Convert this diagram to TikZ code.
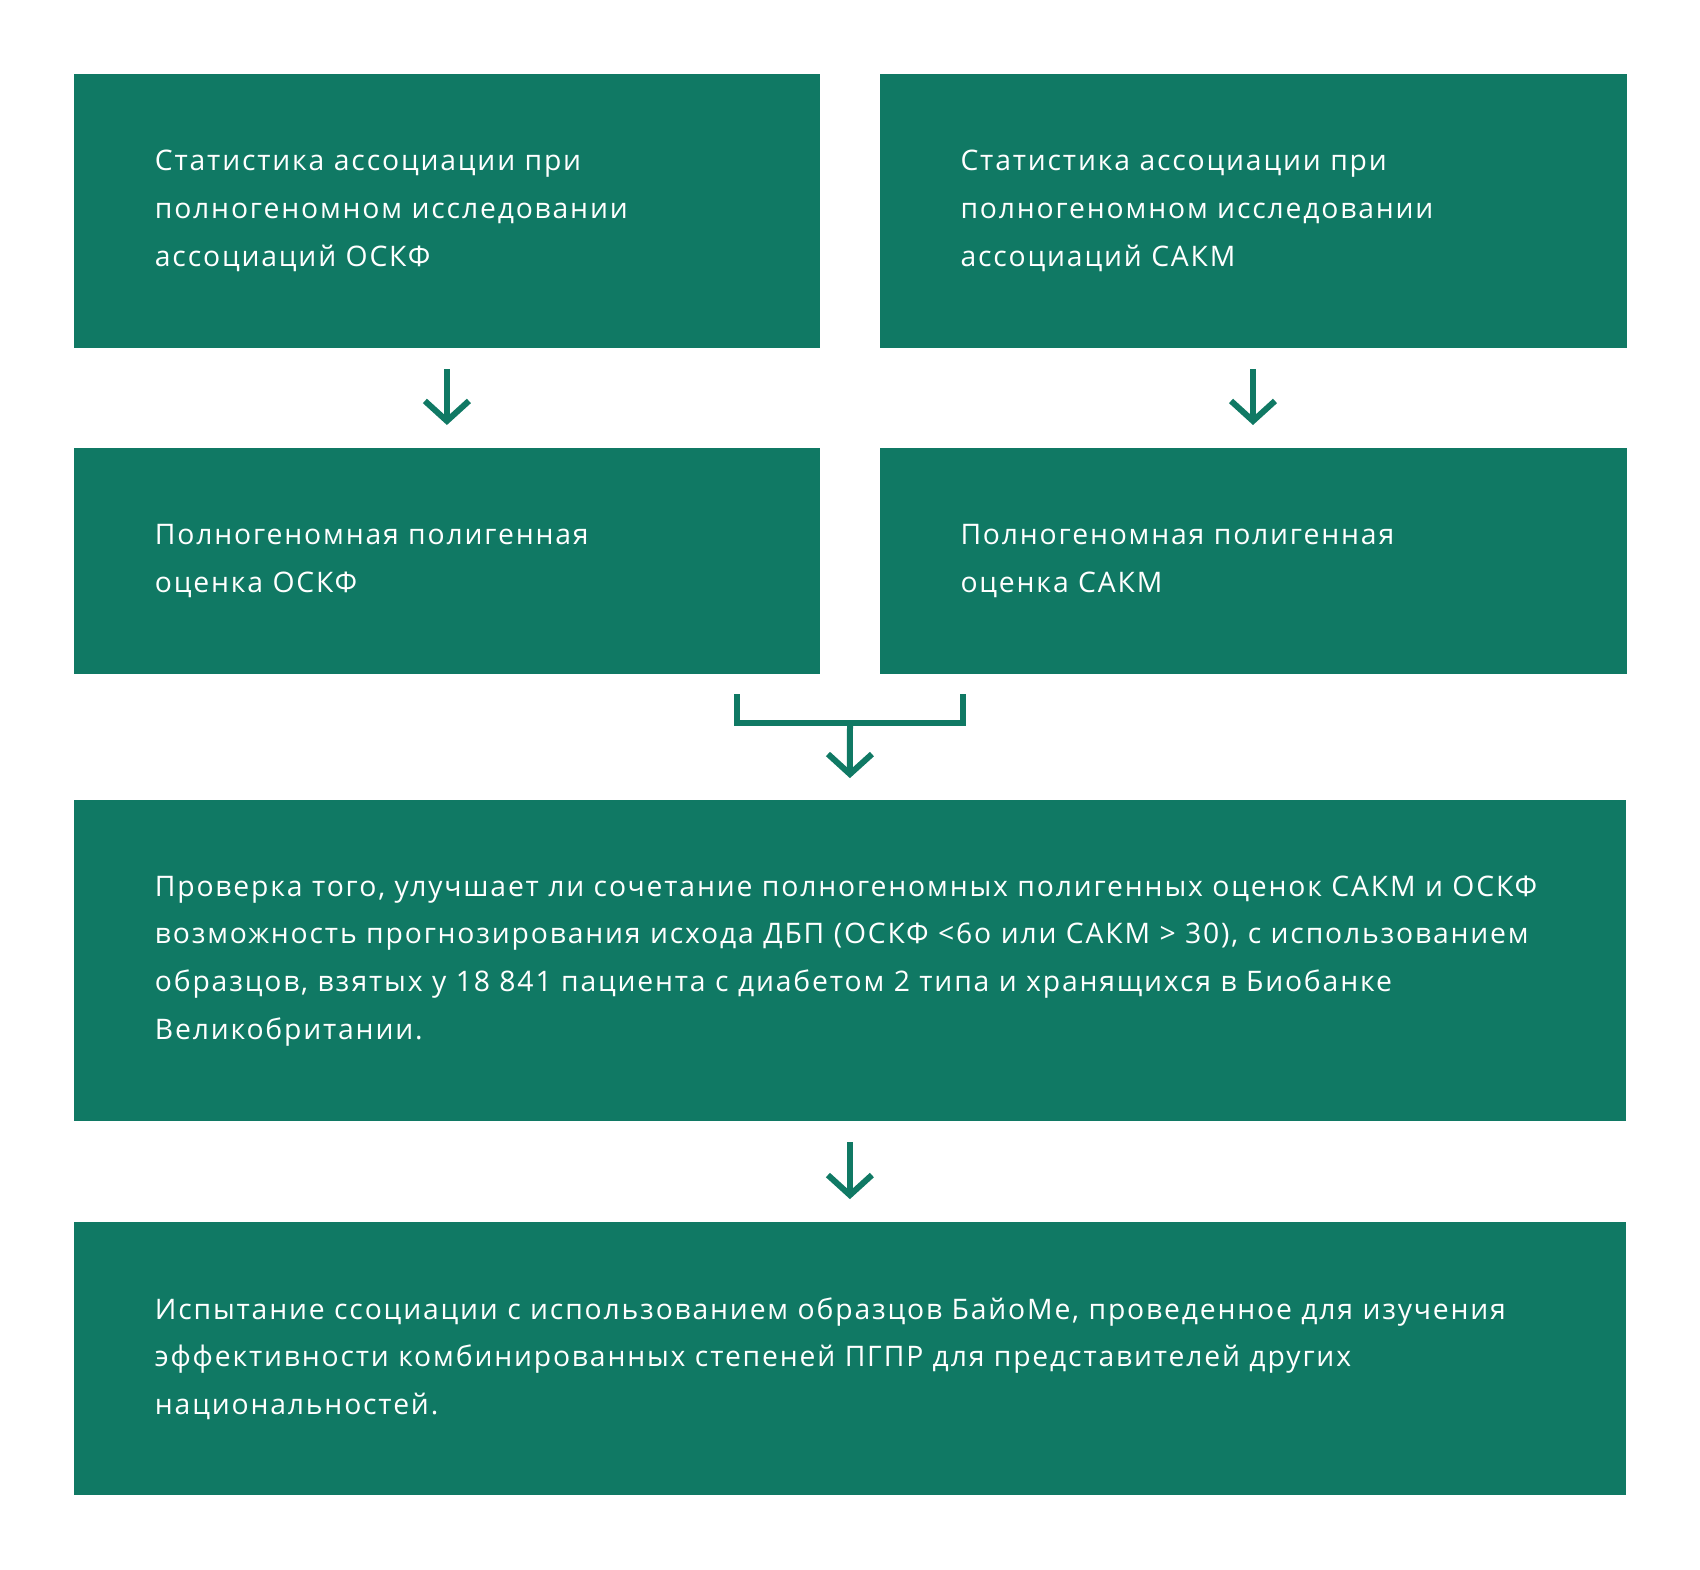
\documentclass[tikz,border=0pt]{standalone}
\usepackage{fontspec}
\setmainfont{Open Sans}[LetterSpace=6.5]
\usetikzlibrary{arrows.meta}
\definecolor{boxgreen}{HTML}{107964}
\begin{document}
\begin{tikzpicture}[x=1pt,y=-1pt,
    box/.style={rectangle,fill=boxgreen,text=white,anchor=north west,
      inner xsep=81pt,inner ysep=0pt,align=left,
      font=\fontsize{28.3}{47.7}\selectfont},
    arrowline/.style={draw=boxgreen,line width=6pt,
      -{Straight Barb[length=20pt,width=44pt]}}]
        \useasboundingbox (0,0) rectangle (1700,1570);
        \node[box,text width=584pt,minimum height=274.3pt] (a) at(73.7,73.7) {Статистика ассоциации при\\полногеномном исследовании\\ассоциаций ОСКФ};
        \node[box,text width=585pt,minimum height=274.3pt] (b) at(879.3,73.7) {Статистика ассоциации при\\полногеномном исследовании\\ассоциаций САКМ};
        \node[box,text width=584pt,minimum height=225.5pt] (c) at(73.7,447.8) {Полногеномная полигенная\\оценка ОСКФ};
        \node[box,text width=585pt,minimum height=225.5pt] (d) at(879.3,447.8) {Полногеномная полигенная\\оценка САКМ};
        \node[box,text width=1390pt,minimum height=321pt] (e) at(73.7,800.1) {Проверка того, улучшает ли сочетание полногеномных полигенных оценок САКМ и ОСКФ\\возможность прогнозирования исхода ДБП (ОСКФ <6о или САКМ > 30), с использованием\\образцов, взятых у 18 841 пациента с диабетом 2 типа и хранящихся в Биобанке\\Великобритании.};
        \node[box,text width=1390pt,minimum height=273.2pt] (f) at(73.7,1221.9) {Испытание ссоциации с использованием образцов БайоМе, проведенное для изучения\\эффективности комбинированных степеней ПГПР для представителей других\\национальностей.};
        \coordinate (jl) at (737,694);
        \coordinate (jr) at (963,694);
        \coordinate (jm) at (850,723);
        \draw[arrowline] ([yshift=-20.6pt]a.south) -- ([yshift=22.8pt]c.north);
        \draw[arrowline] ([yshift=-20.6pt]b.south) -- ([yshift=22.8pt]d.north);
        \draw[draw=boxgreen,line width=6pt] (jl) |- (jm) -| (jr);
        \draw[arrowline] (jm) -- ([yshift=22pt]e.north);
        \draw[arrowline] ([yshift=-20.6pt]e.south) -- ([yshift=22.8pt]f.north);
\end{tikzpicture}
\end{document}
